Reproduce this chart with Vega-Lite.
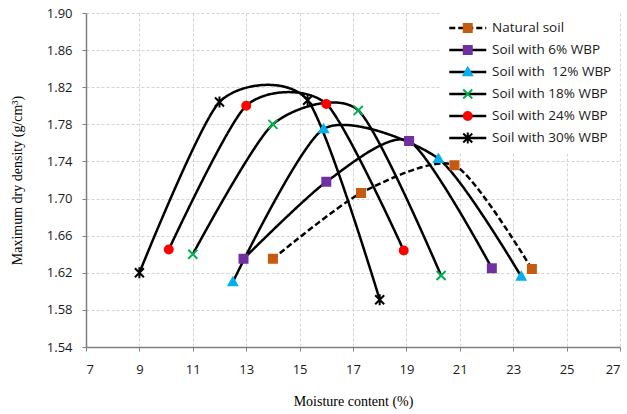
{
  "$schema": "https://vega.github.io/schema/vega-lite/v6.json",
  "width": 534,
  "height": 334,
  "autosize": {"type": "none"},
  "padding": {"left": 86, "top": 13, "right": 7, "bottom": 67},
  "background": "white",
  "config": {
    "view": {"stroke": null},
    "font": "Open Sans",
    "axis": {
      "domainColor": "#7f7f7f",
      "domainWidth": 1.5,
      "tickColor": "#7f7f7f",
      "tickSize": 4,
      "tickWidth": 1,
      "gridColor": "#d4d4d4",
      "gridDash": [3, 2],
      "gridWidth": 1,
      "labelFont": "Open Sans",
      "labelFontSize": 13,
      "labelColor": "#1a1a1a",
      "titleFont": "Liberation Serif",
      "titleFontSize": 14,
      "titleFontWeight": "normal",
      "titleColor": "#000000"
    }
  },
  "data": {
    "values": [
      {"series": "Natural soil", "moisture": 14.0, "density": 1.635},
      {"series": "Natural soil", "moisture": 17.3, "density": 1.706},
      {"series": "Natural soil", "moisture": 20.8, "density": 1.736},
      {"series": "Natural soil", "moisture": 23.7, "density": 1.624},
      {"series": "Soil with 6% WBP", "moisture": 12.9, "density": 1.635},
      {"series": "Soil with 6% WBP", "moisture": 16.0, "density": 1.718},
      {"series": "Soil with 6% WBP", "moisture": 19.1, "density": 1.762},
      {"series": "Soil with 6% WBP", "moisture": 22.2, "density": 1.625},
      {"series": "Soil with \u00a012% WBP", "moisture": 12.5, "density": 1.61},
      {"series": "Soil with \u00a012% WBP", "moisture": 15.9, "density": 1.775},
      {"series": "Soil with \u00a012% WBP", "moisture": 20.2, "density": 1.743},
      {"series": "Soil with \u00a012% WBP", "moisture": 23.3, "density": 1.616},
      {"series": "Soil with 18% WBP", "moisture": 11.0, "density": 1.64},
      {"series": "Soil with 18% WBP", "moisture": 14.0, "density": 1.78},
      {"series": "Soil with 18% WBP", "moisture": 17.2, "density": 1.795},
      {"series": "Soil with 18% WBP", "moisture": 20.3, "density": 1.617},
      {"series": "Soil with 24% WBP", "moisture": 10.1, "density": 1.645},
      {"series": "Soil with 24% WBP", "moisture": 13.0, "density": 1.8},
      {"series": "Soil with 24% WBP", "moisture": 16.0, "density": 1.802},
      {"series": "Soil with 24% WBP", "moisture": 18.9, "density": 1.644},
      {"series": "Soil with 30% WBP", "moisture": 9.0, "density": 1.62},
      {"series": "Soil with 30% WBP", "moisture": 12.0, "density": 1.804},
      {"series": "Soil with 30% WBP", "moisture": 15.3, "density": 1.806},
      {"series": "Soil with 30% WBP", "moisture": 18.0, "density": 1.591}
    ]
  },
  "encoding": {
    "x": {
      "field": "moisture",
      "type": "quantitative",
      "scale": {"domain": [7, 27], "nice": false, "zero": false},
      "axis": {
        "values": [7, 9, 11, 13, 15, 17, 19, 21, 23, 25, 27],
        "title": "Moisture content (%)",
        "labelPadding": 12,
        "titlePadding": 18
      }
    },
    "y": {
      "field": "density",
      "type": "quantitative",
      "scale": {"domain": [1.54, 1.9], "nice": false, "zero": false},
      "axis": {
        "values": [1.54, 1.58, 1.62, 1.66, 1.7, 1.74, 1.78, 1.82, 1.86, 1.9],
        "format": ".2f",
        "title": "Maximum dry density (g/cm³)",
        "labelPadding": 10,
        "titlePadding": 22
      }
    }
  },
  "layer": [
    {
      "mark": {"type": "line", "interpolate": "cardinal", "tension": 0.3, "color": "black", "strokeWidth": 2.5},
      "encoding": {
        "strokeDash": {
          "field": "series",
          "type": "nominal",
          "sort": ["Natural soil", "Soil with 6% WBP", "Soil with \u00a012% WBP", "Soil with 18% WBP", "Soil with 24% WBP", "Soil with 30% WBP"],
          "scale": {"range": [[6, 3], [1, 0], [1, 0], [1, 0], [1, 0], [1, 0]]},
          "legend": {
            "title": null,
            "orient": "none",
            "legendX": 355,
            "legendY": -1,
            "padding": 8,
            "fillColor": "white",
            "symbolType": "M-3.7,0H3.7",
            "symbolSize": 100,
            "symbolOffset": 12,
            "symbolStrokeColor": "black",
            "symbolStrokeWidth": 2.5,
            "clipHeight": 16,
            "labelOffset": 17.5,
            "labelFont": "Open Sans",
            "labelFontSize": 13.5,
            "labelColor": "#1a1a1a",
            "rowPadding": 6,
            "zindex": 1
          }
        }
      }
    },
    {
      "mark": {"type": "point", "filled": true, "size": 100, "strokeWidth": 2, "opacity": 1},
      "encoding": {
        "color": {
          "field": "series",
          "type": "nominal",
          "scale": {
            "domain": ["Natural soil", "Soil with 6% WBP", "Soil with \u00a012% WBP", "Soil with 18% WBP", "Soil with 24% WBP", "Soil with 30% WBP"],
            "range": ["#C55A11", "#7030A0", "#00B0F0", "#00B050", "#FF0000", "#000000"]
          },
          "legend": {
            "title": null,
            "orient": "none",
            "legendX": 355,
            "legendY": -1,
            "padding": 8,
            "symbolSize": 100,
            "symbolOffset": 12,
            "symbolStrokeWidth": 2,
            "clipHeight": 16,
            "labelOffset": 17.5,
            "labelFont": "Open Sans",
            "labelFontSize": 13.5,
            "labelOpacity": 0,
            "rowPadding": 6,
            "zindex": 2,
            "encode": {"symbols": {"update": {"stroke": {"scale": "color", "field": "value"}, "strokeWidth": {"value": 2}}}}
          }
        },
        "shape": {
          "field": "series",
          "type": "nominal",
          "scale": {
            "domain": ["Natural soil", "Soil with 6% WBP", "Soil with \u00a012% WBP", "Soil with 18% WBP", "Soil with 24% WBP", "Soil with 30% WBP"],
            "range": [
              "M-0.8,-0.8H0.8V0.8H-0.8Z",
              "M-0.8,-0.8H0.8V0.8H-0.8Z",
              "M0,-0.85L0.85,0.65H-0.85Z",
              "M-0.9,-0.9L0.9,0.9M-0.9,0.9L0.9,-0.9",
              "M-0.8,0A0.8,0.8,0,1,0,0.8,0A0.8,0.8,0,1,0,-0.8,0Z",
              "M-0.9,-0.9L0.9,0.9M-0.9,0.9L0.9,-0.9M0,-1.1V1.1"
            ]
          }
        },
        "stroke": {
          "field": "series",
          "type": "nominal",
          "scale": {
            "domain": ["Natural soil", "Soil with 6% WBP", "Soil with \u00a012% WBP", "Soil with 18% WBP", "Soil with 24% WBP", "Soil with 30% WBP"],
            "range": ["#C55A11", "#7030A0", "#00B0F0", "#00B050", "#FF0000", "#000000"]
          },
          "legend": null
        }
      }
    }
  ]
}
